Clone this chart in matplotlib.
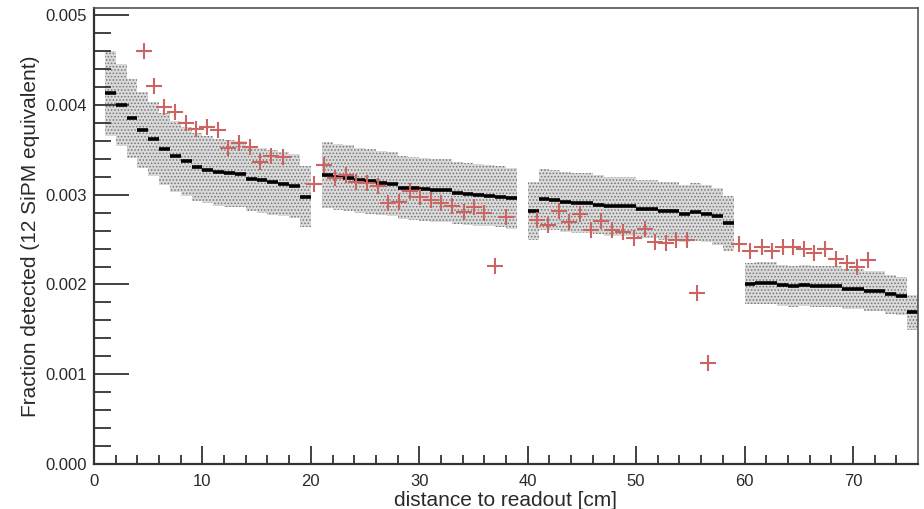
import matplotlib
matplotlib.use("Agg")
import matplotlib.pyplot as plt
import numpy as np

plt.rcParams['font.family'] = ['Liberation Sans', 'DejaVu Sans']
plt.rcParams['hatch.color'] = '#747474'
plt.rcParams['hatch.linewidth'] = 0.7

#-----------------------------------
# simulated histogram, 1 cm bins from 1 to 76 cm (nan = empty bin)
bin_left = np.arange(1, 76)
sim = np.array([
    4.13, 4.00, 3.85, 3.72, 3.62, 3.51, 3.43, 3.37, 3.31, 3.28,
    3.25, 3.24, 3.23, 3.18, 3.16, 3.14, 3.12, 3.10, 2.98, np.nan,
    3.22, 3.20, 3.19, 3.16, 3.15, 3.13, 3.12, 3.08, 3.07, 3.06,
    3.05, 3.05, 3.02, 3.01, 3.00, 2.99, 2.98, 2.96, np.nan, 2.82,
    2.95, 2.94, 2.92, 2.91, 2.91, 2.89, 2.87, 2.87, 2.87, 2.84,
    2.84, 2.82, 2.82, 2.79, 2.81, 2.79, 2.76, 2.68, np.nan, 2.01,
    2.02, 2.02, 1.99, 1.98, 1.99, 1.98, 1.98, 1.98, 1.95, 1.95,
    1.93, 1.93, 1.89, 1.87, 1.69]) * 1e-3
sim_rel_err = 0.115

# measured points
meas_x = [4.6, 5.5, 6.5, 7.5, 8.5, 9.45, 10.45, 11.4, 12.4, 13.4,
          14.35, 15.35, 16.35, 17.4, 20.3, 21.25, 22.2, 23.2, 24.2, 25.2,
          26.2, 27.1, 28.15, 29.1, 30.1, 31.1, 32.05, 33.05, 34.1, 35.05,
          36.0, 37.0, 38.0, 40.9, 41.9, 42.9, 43.85, 44.85, 45.8, 46.8,
          47.8, 48.8, 49.8, 50.8, 51.75, 52.75, 53.7, 54.7, 55.6, 56.65,
          59.5, 60.55, 61.6, 62.55, 63.55, 64.5, 65.5, 66.45, 67.45, 68.45,
          69.45, 70.4, 71.4]
meas_y = np.array([
    4.60, 4.21, 3.98, 3.92, 3.80, 3.73, 3.75, 3.72, 3.52, 3.58,
    3.53, 3.36, 3.43, 3.42, 3.12, 3.33, 3.19, 3.22, 3.14, 3.13,
    3.10, 2.91, 2.92, 3.04, 2.97, 2.94, 2.91, 2.87, 2.81, 2.86,
    2.80, 2.21, 2.75, 2.72, 2.66, 2.82, 2.70, 2.78, 2.61, 2.71,
    2.61, 2.58, 2.52, 2.62, 2.47, 2.46, 2.49, 2.50, 1.90, 1.13,
    2.45, 2.37, 2.42, 2.37, 2.42, 2.42, 2.39, 2.35, 2.39, 2.28,
    2.24, 2.19, 2.27]) * 1e-3

#-----------------------------------
fig = plt.figure(figsize=(9.24, 5.09), dpi=100)
ax = fig.add_axes([94/924, 1-464/509, (918-94)/924, (464-8)/509])

ok = ~np.isnan(sim)
lo = sim[ok] * (1 - sim_rel_err)
hi = sim[ok] * (1 + sim_rel_err)
ax.bar(bin_left[ok], hi - lo, bottom=lo, width=1.0, align='edge',
       color='#dadada', edgecolor='#747474', linewidth=0, hatch='.....', zorder=1)
ax.hlines(sim[ok], bin_left[ok], bin_left[ok] + 1, color='black', linewidth=2.6, zorder=2)

ax.plot(meas_x, meas_y, linestyle='none', marker='+', markersize=12,
        markeredgewidth=1.5, color='#cd6464', zorder=3)

ax.set_xlim(0, 76)
ax.set_ylim(0, 0.00508)
ax.set_xticks(np.arange(0, 71, 10))
ax.set_xticks(np.arange(0, 76, 2), minor=True)
ax.set_yticks(np.arange(0, 0.0051, 0.001))
ax.set_yticks(np.arange(0, 0.00508, 0.0002), minor=True)
ax.set_yticklabels(['0.000', '0.001', '0.002', '0.003', '0.004', '0.005'])

ax.tick_params(axis='both', which='both', direction='in', colors='#333333',
               labelcolor='#2a2a2a', labelsize=12, width=1.3)
ax.tick_params(axis='x', which='major', length=13, pad=7)
ax.tick_params(axis='x', which='minor', length=6.5)
ax.tick_params(axis='y', which='major', length=25, pad=5)
ax.tick_params(axis='y', which='minor', length=12.5)

for s in ['left', 'bottom']:
    ax.spines[s].set_linewidth(1.6)
    ax.spines[s].set_color('#333333')
for s in ['top', 'right']:
    ax.spines[s].set_linewidth(1.2)
    ax.spines[s].set_color('#555555')

ax.set_xlabel('distance to readout [cm]', fontsize=15, color='#2a2a2a', labelpad=2)
ax.set_ylabel('Fraction detected (12 SiPM equivalent)', fontsize=15, color='#2a2a2a', labelpad=4)

fig.savefig('out.png', dpi=100)
